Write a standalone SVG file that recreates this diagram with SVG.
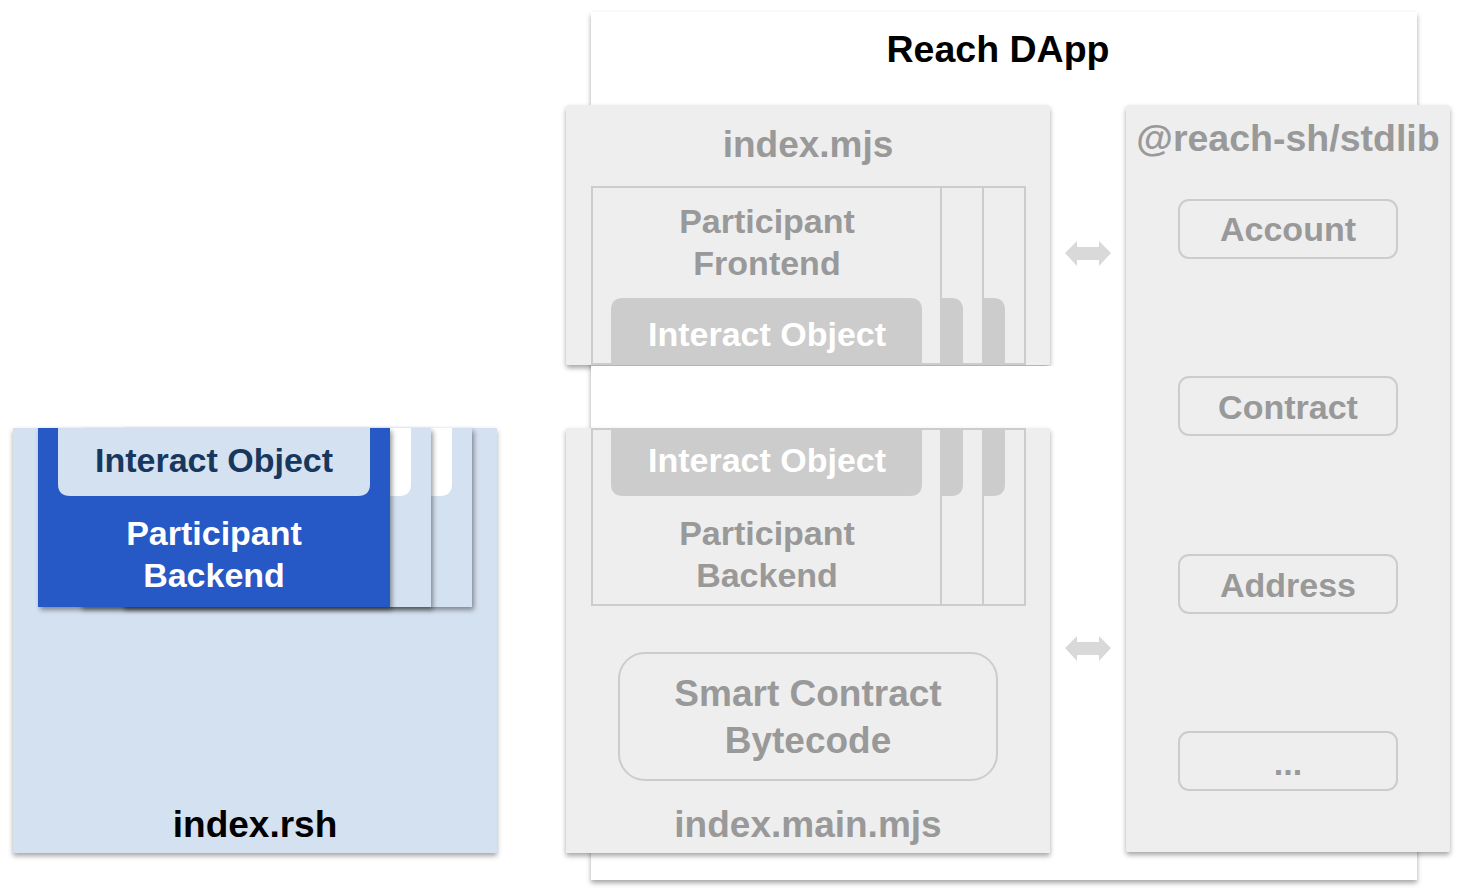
<svg xmlns="http://www.w3.org/2000/svg" width="1462" height="894" viewBox="0 0 1462 894">
<defs>
<filter id="sh" x="-10%" y="-10%" width="120%" height="120%">
<feDropShadow dx="0" dy="3" stdDeviation="2.5" flood-color="#000" flood-opacity="0.35"/>
</filter>
<filter id="shr" x="-10%" y="-10%" width="120%" height="120%">
<feDropShadow dx="2" dy="3" stdDeviation="2.5" flood-color="#000" flood-opacity="0.4"/>
</filter>
</defs>
<style>
text{font-family:"Liberation Sans",Arial,sans-serif;font-weight:bold;text-anchor:middle}
.g{fill:#999999}
.w{fill:#ffffff}
.k{fill:#000000}
.box{fill:#eeeeee}
.frame{fill:#eeeeee;stroke:#cccccc;stroke-width:2}
.pill{fill:#cccccc}
.btn{fill:#eeeeee;stroke:#cccccc;stroke-width:2}
.arr{fill:#d9d9d9}
</style>

<g id="reach-dapp">
<rect x="591" y="12" width="826" height="868" fill="#ffffff" filter="url(#sh)"/>
<text class="k" x="998" y="62" font-size="37.5">Reach DApp</text>
</g>

<g id="index-mjs">
<rect class="box" x="566" y="105" width="484" height="260" rx="3" filter="url(#sh)"/>
<text class="g" x="808" y="157" font-size="37">index.mjs</text>
<g id="frontend-stack">
<rect class="frame" x="676" y="187" width="349" height="177"/>
<path class="pill" d="M695,364 V310 Q695,298 707,298 H993 Q1005,298 1005,310 V364 Z"/>
<rect class="frame" x="634" y="187" width="349" height="177"/>
<path class="pill" d="M653,364 V310 Q653,298 665,298 H951 Q963,298 963,310 V364 Z"/>
<rect class="frame" x="592" y="187" width="349" height="177"/>
<path class="pill" d="M611,364 V310 Q611,298 623,298 H910 Q922,298 922,310 V364 Z"/>
<text class="g" x="767" y="233" font-size="34">Participant</text>
<text class="g" x="767" y="275" font-size="34">Frontend</text>
<text class="w" x="767" y="346" font-size="34">Interact Object</text>
</g>
</g>

<rect x="591" y="366" width="470" height="61" fill="#ffffff"/>

<g id="index-main-mjs">
<rect class="box" x="566" y="428" width="484" height="425" filter="url(#sh)"/>
<g id="backend-stack">
<rect class="frame" x="676" y="429" width="349" height="176"/>
<path class="pill" d="M695,429 V484 Q695,496 707,496 H993 Q1005,496 1005,484 V429 Z"/>
<rect class="frame" x="634" y="429" width="349" height="176"/>
<path class="pill" d="M653,429 V484 Q653,496 665,496 H951 Q963,496 963,484 V429 Z"/>
<rect class="frame" x="592" y="429" width="349" height="176"/>
<path class="pill" d="M611,429 V484 Q611,496 623,496 H910 Q922,496 922,484 V429 Z"/>
<text class="w" x="767" y="472" font-size="34">Interact Object</text>
<text class="g" x="767" y="545" font-size="34">Participant</text>
<text class="g" x="767" y="587" font-size="34">Backend</text>
</g>
<g id="bytecode">
<rect class="btn" x="619" y="653" width="378" height="127" rx="26"/>
<text class="g" x="808" y="706" font-size="37">Smart Contract</text>
<text class="g" x="808" y="753" font-size="37">Bytecode</text>
</g>
<text class="g" x="808" y="837" font-size="37">index.main.mjs</text>
</g>

<g id="stdlib">
<rect class="box" x="1126" y="105" width="324" height="747" rx="3" filter="url(#sh)"/>
<text class="g" x="1288" y="151" font-size="37.5">@reach-sh/stdlib</text>
<g id="account">
<rect class="btn" x="1179" y="200" width="218" height="58" rx="10"/>
<text class="g" x="1288" y="241" font-size="34">Account</text>
</g>
<g id="contract">
<rect class="btn" x="1179" y="377" width="218" height="58" rx="10"/>
<text class="g" x="1288" y="419" font-size="34">Contract</text>
</g>
<g id="address">
<rect class="btn" x="1179" y="555" width="218" height="58" rx="10"/>
<text class="g" x="1288" y="597" font-size="34">Address</text>
</g>
<g id="more">
<rect class="btn" x="1179" y="732" width="218" height="58" rx="10"/>
<text class="g" x="1288" y="775" font-size="34">...</text>
</g>
</g>

<g id="index-rsh">
<rect x="13" y="428" width="484" height="425" fill="#d4e1f0" filter="url(#sh)"/>
<g id="rsh-stack">
<rect x="122" y="428" width="350" height="179" fill="#d4e1f0" filter="url(#shr)"/>
<path d="M142,428 V484 Q142,496 154,496 H440 Q452,496 452,484 V428 Z" fill="#ffffff"/>
<rect x="80" y="428" width="351" height="179" fill="#d4e1f0" filter="url(#shr)"/>
<path d="M100,428 V484 Q100,496 112,496 H399 Q411,496 411,484 V428 Z" fill="#ffffff"/>
<rect x="38" y="428" width="352" height="179" fill="#2659c6" filter="url(#shr)"/>
<path d="M58,428 V484 Q58,496 70,496 H358 Q370,496 370,484 V428 Z" fill="#d4e1f0"/>
<text x="214" y="472" font-size="34" fill="#17375e">Interact Object</text>
<text class="w" x="214" y="545" font-size="34">Participant</text>
<text class="w" x="214" y="587" font-size="34">Backend</text>
</g>
<text class="k" x="255" y="837" font-size="37">index.rsh</text>
</g>

<g id="connectors">
<path class="arr" d="M1065,253 L1077,241 L1077,247 L1099,247 L1099,241 L1111,253 L1099,266 L1099,260 L1077,260 L1077,266 Z"/>
<path class="arr" d="M1065,648 L1077,636 L1077,642 L1099,642 L1099,636 L1111,648 L1099,661 L1099,655 L1077,655 L1077,661 Z"/>
</g>
</svg>
